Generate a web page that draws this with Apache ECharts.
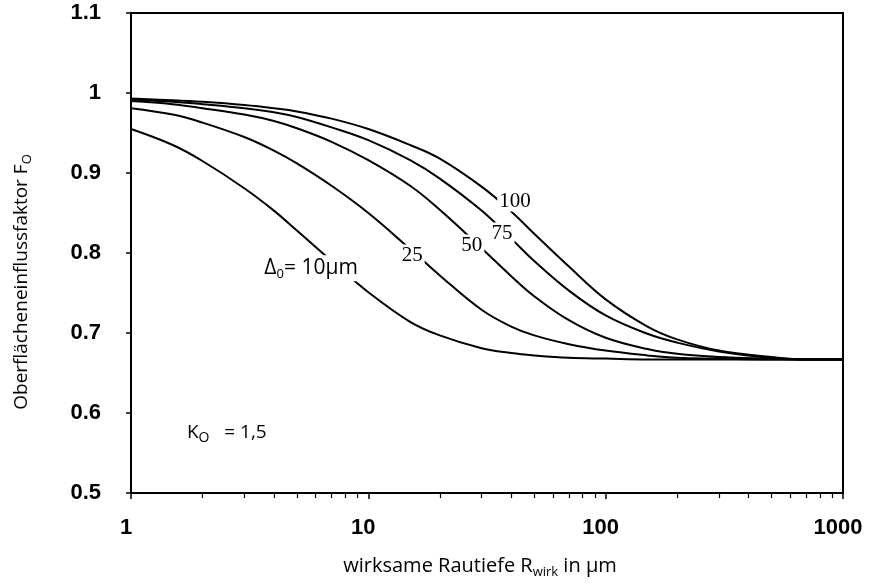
<!DOCTYPE html>
<html>
<head>
<meta charset="utf-8">
<script src="https://cdn.jsdelivr.net/npm/echarts@6/dist/echarts.min.js"></script>
<style>
html,body{margin:0;padding:0;background:#fff;}
#chart{width:874px;height:584px;}
</style>
</head>
<body>
<div id="chart"></div>
<script>
// R values (µm) at which curves were read
const R = [1, 1.5, 2, 3, 4, 5, 7, 10, 15, 20, 30, 40, 50, 70, 100, 150, 200, 300, 500, 700, 1000];
// Oberflächeneinflussfaktor F_O for Δ0 = 10, 25, 50, 75, 100 µm
const f10  = [0.955, 0.935, 0.915, 0.881, 0.853, 0.828, 0.790, 0.751, 0.714, 0.697, 0.681, 0.675, 0.672, 0.669, 0.668, 0.667, 0.667, 0.667, 0.667, 0.667, 0.667];
const f25  = [0.981, 0.973, 0.963, 0.945, 0.928, 0.912, 0.884, 0.850, 0.805, 0.772, 0.729, 0.708, 0.697, 0.686, 0.678, 0.672, 0.669, 0.668, 0.667, 0.667, 0.667];
const f50  = [0.990, 0.986, 0.981, 0.973, 0.965, 0.956, 0.939, 0.916, 0.884, 0.854, 0.806, 0.771, 0.746, 0.716, 0.694, 0.680, 0.674, 0.670, 0.668, 0.667, 0.667];
const f75  = [0.992, 0.989, 0.986, 0.981, 0.976, 0.970, 0.957, 0.941, 0.916, 0.893, 0.853, 0.818, 0.790, 0.753, 0.722, 0.699, 0.688, 0.677, 0.669, 0.667, 0.667];
const f100 = [0.993, 0.991, 0.989, 0.985, 0.981, 0.977, 0.968, 0.955, 0.935, 0.918, 0.883, 0.852, 0.824, 0.783, 0.742, 0.708, 0.692, 0.678, 0.670, 0.667, 0.667];

const curveNames = ['10', '25', '50', '75', '100'];
const curveValues = [f10, f25, f50, f75, f100];
// curve label anchor [R, F]
const curveLabelPos = [[5.74, 0.781], [15.3, 0.7975], [27.3, 0.81], [36.6, 0.825], [41.5, 0.865]];

const xTickValues = [1, 10, 100, 1000];
const xTickLabels = ['1', '10', '100', '1000'];
const xMinorTicks = [2,3,4,5,6,7,8,9,20,30,40,50,60,70,80,90,200,300,400,500,600,700,800,900];
const yTickLabels = ['0.5', '0.6', '0.7', '0.8', '0.9', '1', '1.1'];

const chart = echarts.init(document.getElementById('chart'));

const serifLabel = {
  show: true, position: 'inside', color: '#000',
  fontFamily: 'Liberation Serif', fontSize: 21,
  backgroundColor: '#fff', padding: [0, 2]
};

const series = curveValues.map((vals, i) => ({
  type: 'line',
  name: curveNames[i],
  data: R.map((r, k) => [r, vals[k]]),
  smooth: 0.4,
  symbol: 'none',
  lineStyle: { color: '#000', width: 2 },
  z: 2,
  markPoint: {
    symbol: 'circle', symbolSize: 1,
    itemStyle: { color: 'rgba(0,0,0,0)' },
    data: [{ coord: curveLabelPos[i] }],
    label: i === 0 ? {
      show: true, position: 'inside', color: '#000',
      backgroundColor: '#fff', padding: [0, 2],
      formatter: '{d|\u0394}{s|0}{d|= 10\u00b5m}',
      rich: {
        d: { fontFamily: 'Open Sans', fontSize: 21, color: '#000', lineHeight: 26, verticalAlign: 'middle' },
        s: { fontFamily: 'Open Sans', fontSize: 13, color: '#000', lineHeight: 13, verticalAlign: 'bottom' }
      }
    } : Object.assign({ formatter: curveNames[i] }, serifLabel)
  }
}));

// K_O annotation
series.push({
  type: 'line', data: [], symbol: 'none',
  markPoint: {
    symbol: 'circle', symbolSize: 1,
    itemStyle: { color: 'rgba(0,0,0,0)' },
    data: [{ coord: [1.72, 0.575] }],
    label: {
      show: true, position: 'inside', align: 'left',
      formatter: '{d|K}{s|O}{d|   = 1,5}',
      rich: {
        d: { fontFamily: 'Open Sans', fontSize: 19, color: '#000', lineHeight: 24, verticalAlign: 'middle' },
        s: { fontFamily: 'Open Sans', fontSize: 14, color: '#000', lineHeight: 14, verticalAlign: 'bottom' }
      }
    }
  }
});

chart.setOption({
  animation: false,
  backgroundColor: '#fff',
  grid: { left: 131, right: 31, top: 13, bottom: 91, show: true, borderColor: '#000', borderWidth: 2, containLabel: false },
  xAxis: [{
    type: 'log', logBase: 10, min: 1, max: 1000, position: 'bottom',
    axisLine: { show: true, lineStyle: { color: '#000', width: 2 } },
    axisTick: { show: true, length: 6, inside: false, lineStyle: { color: '#000', width: 1.5 } },
    minorTick: { show: false },
    splitLine: { show: false },
    axisLabel: {
      color: '#000', fontFamily: 'Liberation Sans', fontWeight: 'bold', fontSize: 22, margin: 24,
      padding: [0, 10, 0, 0],
      formatter: v => { const i = xTickValues.indexOf(Math.round(v)); return i >= 0 ? xTickLabels[i] : ''; }
    },
    name: 'wirksame Rautiefe {m|R}{s|wirk}{m| in \u00b5m}',
    nameLocation: 'middle', nameGap: 60,
    nameTextStyle: {
      rich: {
        m: { fontFamily: 'Open Sans', fontSize: 20, color: '#000', lineHeight: 26, verticalAlign: 'middle' },
        s: { fontFamily: 'Open Sans', fontSize: 13, color: '#000', lineHeight: 13, verticalAlign: 'bottom' }
      },
      fontFamily: 'Open Sans', fontSize: 20, color: '#000', lineHeight: 26,
      padding: [0, 14, 0, 0]
    }
  }, {
    type: 'log', logBase: 10, min: 1, max: 1000, position: 'bottom', gridIndex: 0,
    axisLine: { show: false },
    axisLabel: { show: false },
    splitLine: { show: false },
    axisTick: { show: true, length: 5, customValues: xMinorTicks, lineStyle: { color: '#000', width: 1.2 } }
  }],
  yAxis: {
    type: 'value', min: 0.5, max: 1.1, interval: 0.1,
    axisLine: { show: true, lineStyle: { color: '#000', width: 2 } },
    axisTick: { show: true, length: 5, lineStyle: { color: '#000', width: 1.5 } },
    splitLine: { show: false },
    axisLabel: {
      color: '#000', fontFamily: 'Liberation Sans', fontWeight: 'bold', fontSize: 22, margin: 30,
      padding: [10, 0, 0, 0],
      formatter: v => yTickLabels[Math.round((v - 0.5) / 0.1)]
    }
  },
  graphic: [{
    type: 'text', x: 22, y: 282, rotation: Math.PI / 2,
    style: {
      text: 'Oberfl\u00e4cheneinflussfaktor {m|F}{s|O}',
      fontFamily: 'Open Sans', fontSize: 19, fill: '#000',
      align: 'center', verticalAlign: 'middle',
      rich: {
        m: { fontFamily: 'Open Sans', fontSize: 19, fill: '#000', lineHeight: 24, verticalAlign: 'middle' },
        s: { fontFamily: 'Open Sans', fontSize: 13, fill: '#000', lineHeight: 13, verticalAlign: 'bottom' }
      }
    }
  }],
  series: series
});
</script>
</body>
</html>
